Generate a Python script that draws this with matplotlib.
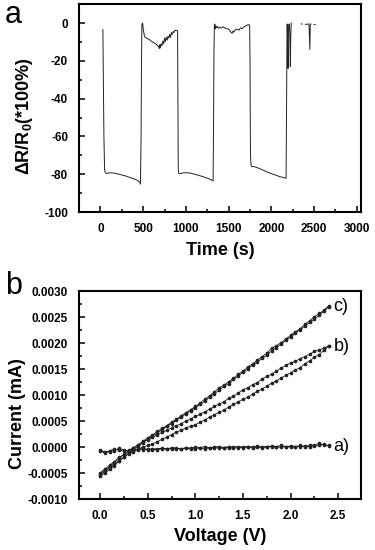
import matplotlib
matplotlib.use("Agg")
import matplotlib.pyplot as plt
import numpy as np
from matplotlib.ticker import MultipleLocator, FormatStrFormatter

plt.rcParams.update({'font.family': 'Liberation Sans',
                     'axes.unicode_minus': False,
                     'mathtext.fontset': 'custom',
                     'mathtext.rm': 'Liberation Sans:bold',
                     'mathtext.it': 'Liberation Sans:bold',
                     'mathtext.default': 'rm'})

# ---- panel a: response vs time ----
t_a = [28, 40, 48, 55, 70, 100, 150, 200, 250, 300, 350, 400, 440, 462, 468,
       475, 480, 484, 490, 495, 500, 510, 520, 540, 560, 580, 600, 620, 640, 660,
       680, 690, 695, 700, 710, 720, 730, 740, 750, 760, 770, 780, 790, 800, 810,
       820, 830, 840, 850, 860, 870, 880, 895, 902, 906, 910, 915, 930, 960, 1000,
       1050, 1100, 1150, 1200, 1250, 1300, 1318, 1322, 1328, 1333, 1338, 1345, 1350,
       1360, 1370, 1380, 1400, 1420, 1440, 1460, 1480, 1500, 1520, 1540, 1550, 1560,
       1580, 1600, 1620, 1640, 1660, 1680, 1700, 1720, 1735, 1745, 1750, 1755, 1762,
       1770, 1800, 1850, 1900, 1950, 2000, 2050, 2100, 2150, 2172, 2178, 2183, 2186,
       2190, 2195, 2198, 2202, 2210, 2215, 2222, 2226, 2232]
r_a = [-3.5, -60, -77.5, -79, -79.6, -79.3, -79.3, -79.8, -80.4, -81.0, -81.8, -82.6, -83.4, -84.5, -85.2,
       -60, -20, -1, 0, -0.5, -3, -6, -7.5, -8, -8.5, -9, -9.8, -10.3, -10.8, -11.5,
       -12.5, -13.5, -11.5, -13.2, -11, -12, -9.5, -11, -8, -9.8, -7.5, -9, -7, -8, -6,
       -7.5, -5, -6, -4.5, -5, -3.8, -4, -3.8, -4.5, -40, -77, -79.5, -79.8, -79.3, -79.2,
       -79.4, -80, -80.6, -81.3, -82.1, -83, -83.6, -60, -15, -1, -0.5, -3, -1.5,
       -2.5, -1.8, -2.8, -2.2, -2.6, -2.0, -2.8, -3.0, -3.2, -4.5, -5.5, -4.2, -4.8,
       -3.5, -3.2, -3.8, -2.5, -3, -2, -1.5, -1, -0.8, -1.2, -20, -70, -75.5,
       -76, -76, -76.8, -77.8, -78.8, -79.7, -80.5, -81.3, -81.8, -82.2, -40, -1, -0.5,
       -10, -24, -10, -1, -0.5, -5, -23, -8, 0]
t_tail = [2350, 2362, 2385, 2398, 2405, 2440, 2450, 2455, 2462, 2470, 2500, 2512, 2555, 2566, 2600, 2612]
r_tail = [-0.5, -0.5, np.nan, -0.7, -0.7, -0.5, -14, -1, -0.5, np.nan, -0.8, -0.8, np.nan, -1.2, np.nan, -1.5]

# ---- panel b: I-V sweeps ----
volt = [0.00, 0.05, 0.10, 0.15, 0.20, 0.25, 0.30, 0.35, 0.40, 0.45, 0.50, 0.55, 0.60,
        0.65, 0.70, 0.75, 0.80, 0.85, 0.90, 0.95, 1.00, 1.05, 1.10, 1.15, 1.20, 1.25,
        1.30, 1.35, 1.40, 1.45, 1.50, 1.55, 1.60, 1.65, 1.70, 1.75, 1.80, 1.85, 1.90,
        1.95, 2.00, 2.05, 2.10, 2.15, 2.20, 2.25, 2.30, 2.35, 2.40]
c_fwd = [-0.00056, -0.00050, -0.00043, -0.00033, -0.00026, -0.00020, -0.00011, -0.00004, 0.00001, 0.00008,
         0.00015, 0.00021, 0.00027, 0.00033, 0.00040, 0.00045, 0.00052, 0.00057, 0.00064, 0.00069,
         0.00076, 0.00082, 0.00088, 0.00096, 0.00103, 0.00109, 0.00117, 0.00122, 0.00130, 0.00136,
         0.00144, 0.00150, 0.00158, 0.00163, 0.00171, 0.00177, 0.00185, 0.00191, 0.00198, 0.00205,
         0.00212, 0.00219, 0.00226, 0.00232, 0.00240, 0.00246, 0.00254, 0.00261, 0.00270]
c_rev = [-0.00052, -0.00044, -0.00038, -0.00030, -0.00021, -0.00015, -0.00008, -0.00002, 0.00004, 0.00011,
         0.00018, 0.00023, 0.00030, 0.00036, 0.00041, 0.00048, 0.00053, 0.00060, 0.00066, 0.00072,
         0.00078, 0.00085, 0.00092, 0.00099, 0.00106, 0.00114, 0.00119, 0.00126, 0.00132, 0.00140,
         0.00146, 0.00154, 0.00160, 0.00167, 0.00174, 0.00181, 0.00190, 0.00195, 0.00201, 0.00208,
         0.00215, 0.00222, 0.00228, 0.00236, 0.00243, 0.00251, 0.00257, 0.00263, 0.00272]
b_fwd = [-0.00054, -0.00047, -0.00040, -0.00036, -0.00027, -0.00020, -0.00013, -0.00009, -0.00004, 0.00000,
         0.00003, 0.00006, 0.00010, 0.00015, 0.00019, 0.00024, 0.00029, 0.00032, 0.00037, 0.00040,
         0.00043, 0.00048, 0.00052, 0.00058, 0.00062, 0.00067, 0.00071, 0.00077, 0.00082, 0.00087,
         0.00092, 0.00096, 0.00102, 0.00107, 0.00112, 0.00117, 0.00123, 0.00127, 0.00133, 0.00138,
         0.00143, 0.00148, 0.00153, 0.00160, 0.00166, 0.00173, 0.00178, 0.00186, 0.00194]
b_rev = [-0.00050, -0.00042, -0.00035, -0.00028, -0.00020, -0.00014, -0.00007, -0.00001, 0.00004, 0.00010,
         0.00014, 0.00019, 0.00023, 0.00028, 0.00032, 0.00037, 0.00041, 0.00045, 0.00050, 0.00054,
         0.00059, 0.00063, 0.00068, 0.00073, 0.00078, 0.00083, 0.00087, 0.00094, 0.00098, 0.00104,
         0.00110, 0.00114, 0.00120, 0.00124, 0.00131, 0.00136, 0.00140, 0.00146, 0.00152, 0.00157,
         0.00162, 0.00165, 0.00170, 0.00174, 0.00179, 0.00184, 0.00187, 0.00190, 0.00195]
a_fwd = [-0.00005, -0.00010, -0.00009, -0.00007, -0.00002, -0.00006, -0.00007, -0.00005, -0.00004, -0.00005,
         -0.00004, -0.00005, -0.00003, -0.00004, -0.00003, -0.00004, -0.00003, -0.00003, -0.00002, -0.00004,
         -0.00003, -0.00002, -0.00003, -0.00002, -0.00001, -0.00002, -0.00002, -0.00001, -0.00002, -0.00001,
         -0.00001, 0.00000, -0.00001, 0.00000, -0.00001, 0.00000, 0.00001, 0.00000, 0.00000, 0.00001,
         0.00000, 0.00001, 0.00001, 0.00002, 0.00001, 0.00002, 0.00003, 0.00005, 0.00002]
a_rev = [-0.00008, -0.00011, -0.00007, -0.00004, -0.00006, -0.00008, -0.00006, -0.00007, -0.00006, -0.00002,
         -0.00005, -0.00003, -0.00005, -0.00002, -0.00004, -0.00001, -0.00002, -0.00004, -0.00001, -0.00002,
         0.00000, -0.00001, 0.00001, -0.00002, 0.00000, 0.00001, -0.00001, 0.00001, 0.00000, 0.00001,
         0.00000, 0.00001, 0.00000, 0.00002, 0.00000, 0.00001, 0.00002, 0.00001, 0.00003, 0.00001,
         0.00002, 0.00001, 0.00003, 0.00001, 0.00003, 0.00004, 0.00007, 0.00004, 0.00003]
curve_names = ['a)', 'b)', 'c)']

fig = plt.figure(figsize=(3.75, 5.5), dpi=100, facecolor='w')
axA = fig.add_axes([0.211, 0.6145, 0.752, 0.378])
axB = fig.add_axes([0.211, 0.0927, 0.752, 0.378])

axA.plot(t_a, r_a, color='#222222', lw=0.7)
axA.plot(t_tail, r_tail, color='#222222', lw=0.7)
axA.set_xlim(-250, 3050)
axA.set_ylim(-100, 10)
axA.xaxis.set_major_locator(MultipleLocator(500))
axA.xaxis.set_minor_locator(MultipleLocator(250))
axA.yaxis.set_major_locator(MultipleLocator(20))
axA.yaxis.set_minor_locator(MultipleLocator(10))
axA.set_xlabel('Time (s)', fontsize=13, fontweight='bold')
axA.set_ylabel(r'$\Delta R/R_0(*100\%)$', fontsize=13)
axA.xaxis.set_label_coords(0.5, -0.143)
axA.yaxis.set_label_coords(-0.155, 0.46)

for va, vr in [(a_fwd, a_rev), (b_fwd, b_rev), (c_fwd, c_rev)]:
    xs = volt + volt[::-1]
    ys = va + vr[::-1]
    axB.plot(xs, ys, color='#222222', lw=0.6, marker='o', ms=1.6)
for name, yv in zip(curve_names, [a_fwd[-1], b_fwd[-1], c_fwd[-1]]):
    axB.text(2.45, yv, name, fontsize=13, va='center', ha='left')
axB.set_xlim(-0.22, 2.74)
axB.set_ylim(-0.0010, 0.0030)
axB.xaxis.set_major_locator(MultipleLocator(0.5))
axB.xaxis.set_minor_locator(MultipleLocator(0.25))
axB.yaxis.set_major_locator(MultipleLocator(0.0005))
axB.yaxis.set_minor_locator(MultipleLocator(0.00025))
axB.xaxis.set_major_formatter(FormatStrFormatter('%.1f'))
axB.yaxis.set_major_formatter(FormatStrFormatter('%.4f'))
axB.set_xlabel('Voltage (V)', fontsize=13, fontweight='bold')
axB.set_ylabel('Current (mA)', fontsize=13, fontweight='bold')
axB.xaxis.set_label_coords(0.5, -0.14)
axB.yaxis.set_label_coords(-0.19, 0.41)

for ax in (axA, axB):
    for s in ax.spines.values():
        s.set_linewidth(1.5)
    ax.tick_params(which='both', direction='in', top=False, right=False, width=1.1)
    ax.tick_params(which='major', length=4.5, labelsize=8.5, pad=8)
    ax.tick_params(which='minor', length=2.5)
    for lab in ax.get_xticklabels() + ax.get_yticklabels():
        lab.set_fontweight('bold')

fig.text(0.013, 0.973, 'a', fontsize=22, va='center', ha='left')
fig.text(0.013, 0.48, 'b', fontsize=22, va='center', ha='left')

fig.savefig('out.png', dpi=100)
